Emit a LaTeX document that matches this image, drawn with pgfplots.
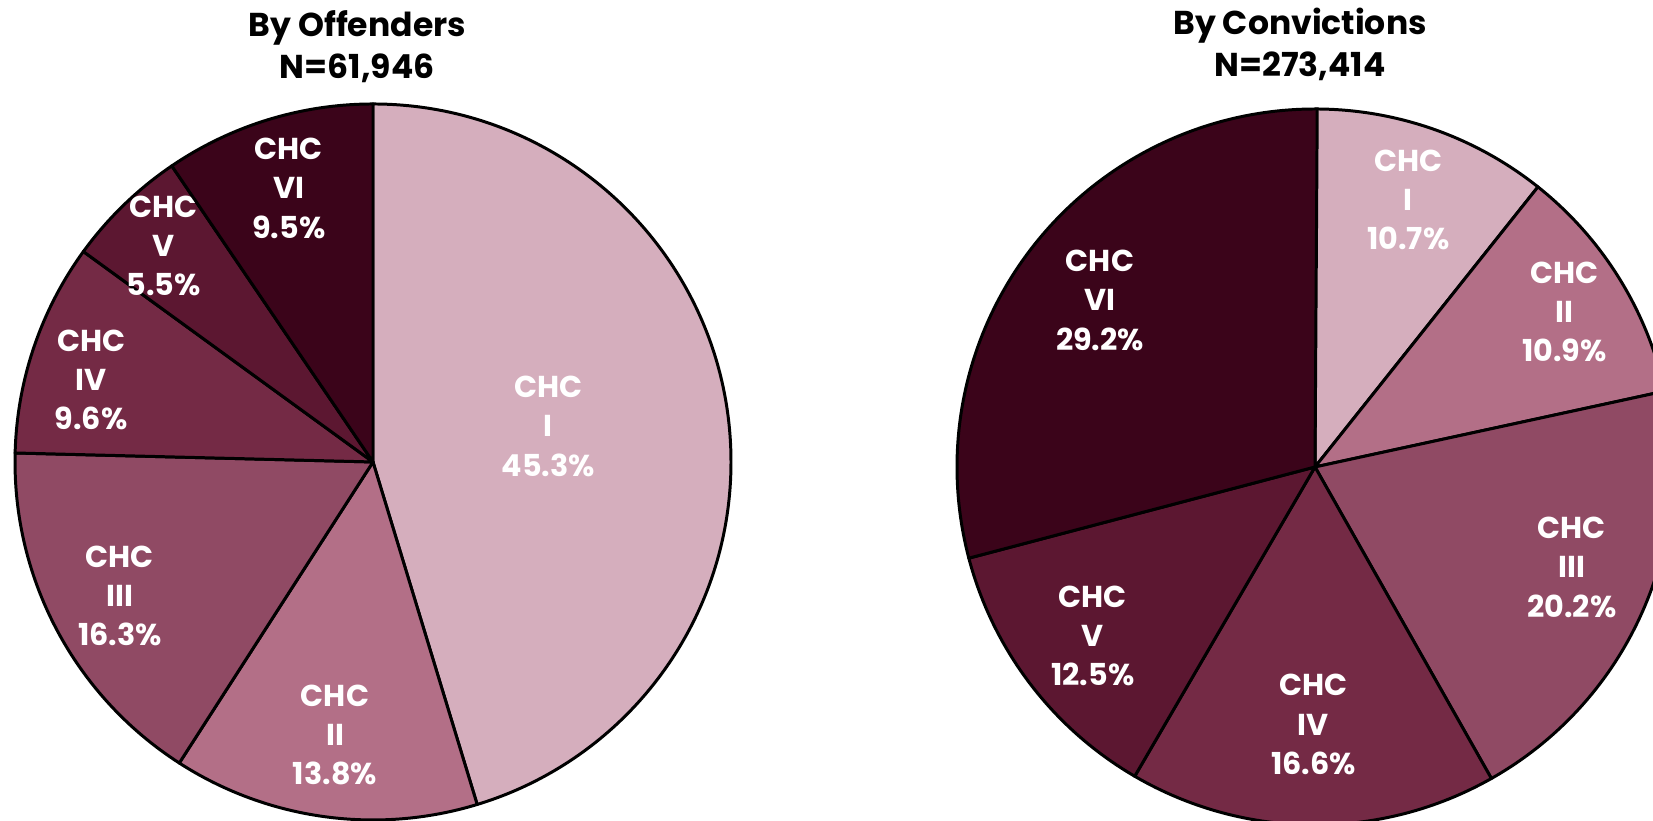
\documentclass[border=0pt]{standalone}
\usepackage{fontspec}
\setmainfont{Poppins}
\usepackage{pgfplots}
\usepackage{pgfplotstable}
\pgfplotsset{compat=1.18}

\definecolor{chcI}{HTML}{D5AEBD}
\definecolor{chcII}{HTML}{B36F87}
\definecolor{chcIII}{HTML}{904A64}
\definecolor{chcIV}{HTML}{742A45}
\definecolor{chcV}{HTML}{5C1731}
\definecolor{chcVI}{HTML}{3B041A}

% share of each criminal history category,
% label distance (fraction of radius) and label angle nudge (deg)
\pgfplotstableread{
name pct labr laba
I    45.3 0.50 3.0
II   13.8 0.77 0
III  16.3 0.80 0
IV   9.6  0.82 2.5
V    5.5  0.84 0
VI   9.5  0.80 0
}\offenders

\pgfplotstableread{
name pct labr laba
I    10.7 0.79 0
II   10.9 0.82 0
III  20.2 0.77 2.8
IV   16.6 0.72 0
V    12.5 0.78 0
VI   29.2 0.76 0
}\convictions

\tikzset{
  lbl/.style={text=white, align=center, inner sep=0pt,
    font=\fontsize{8.6pt}{11.2pt}\selectfont\bfseries},
  ttl/.style={text=black, align=center, inner sep=0pt,
    font=\fontsize{9.4pt}{11.9pt}\selectfont\bfseries},
}

\def\R{3.58cm}
% slices clockwise from 12 o'clock
\newcommand\drawpie[1]{%
  \pgfplotstablegetrowsof{#1}\pgfmathtruncatemacro\last{\pgfplotsretval-1}%
  \def\acc{90}%
  \pgfplotsforeachungrouped \i in {0,...,\last}{%
    \pgfplotstablegetelem{\i}{pct}\of{#1}\let\pct\pgfplotsretval
    \pgfplotstablegetelem{\i}{labr}\of{#1}\let\lr\pgfplotsretval
    \pgfplotstablegetelem{\i}{laba}\of{#1}\let\la\pgfplotsretval
    \pgfplotstablegetelem{\i}{name}\of{#1}\let\nm\pgfplotsretval
    \pgfmathsetmacro\a{\acc}%
    \pgfmathsetmacro\b{\acc-3.6*\pct}%
    \pgfmathsetmacro\m{(\a+\b)/2+\la}%
    \edef\temp{%
      \noexpand\filldraw[fill=chc\nm, draw=black, line width=0.85pt, line join=round]
        (axis cs:0,0) -- (axis cs:{cos(\a)},{sin(\a)})
        arc[start angle=\a, end angle=\b, radius=\R] -- cycle;
      \noexpand\node[lbl] at (axis cs:{\lr*cos(\m)},{\lr*sin(\m)})
        {CHC\noexpand\\\nm\noexpand\\\pct\noexpand\%};
    }%
    \temp
    \let\acc\b
  }%
}

\pgfplotsset{pie/.style={anchor=center, x=3.58cm, y=3.58cm,
  xmin=-1, xmax=1, ymin=-1, ymax=1, hide axis, clip=false}}

\begin{document}
\begin{tikzpicture}
\useasboundingbox (0,0) rectangle (16.53,8.21);
\clip (0,0) rectangle (16.53,8.21);

\begin{axis}[pie, at={(3.73cm,3.59cm)}]
\drawpie{\offenders}
\node[ttl] at (axis description cs:0.478,1.080) {By Offenders\\N=61,946};
\end{axis}

\begin{axis}[pie, at={(13.15cm,3.54cm)}]
\drawpie{\convictions}
\node[ttl] at (axis description cs:0.479,1.090) {By Convictions\\N=273,414};
\end{axis}
\end{tikzpicture}
\end{document}
